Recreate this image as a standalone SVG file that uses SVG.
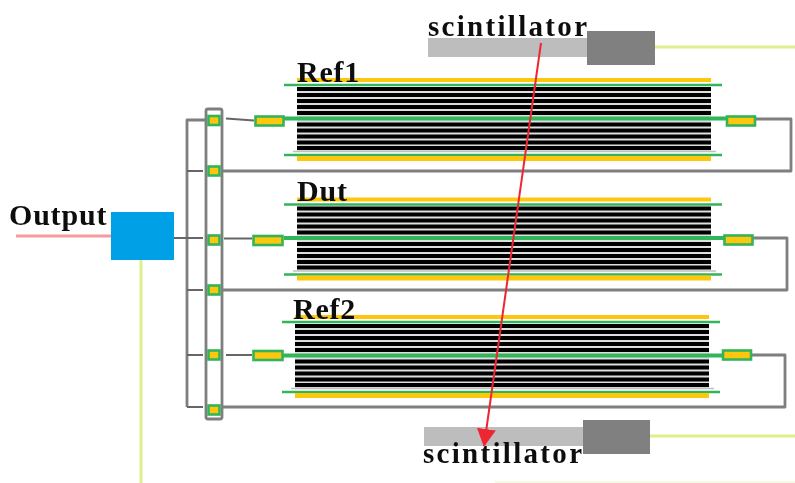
<svg xmlns="http://www.w3.org/2000/svg" xmlns:xlink="http://www.w3.org/1999/xlink" width="795" height="483" viewBox="0 0 795 483">
<style>
.w{fill:none;stroke:#7f7f7f;stroke-width:2.8;stroke-linejoin:round}
.k{fill:none;stroke:#666;stroke-width:2}
.lg{fill:none;stroke:#dcf08c;stroke-width:3}
.gr{stroke:#33b45a;stroke-width:2.5;fill:none}
.y{fill:#fdc70f}
.box{fill:#fdc70f;stroke:#33b45a;stroke-width:2.6}
.t{font-family:"Liberation Serif","Times New Roman",serif;font-weight:700;fill:#111;font-size:30px;letter-spacing:.8px}
.sc{font-size:29px;letter-spacing:2.3px}
.hb{fill:#bdbdbd}
.db{fill:#808080}
</style>
<defs>
<filter id="soft" x="0" y="0" width="795" height="483" filterUnits="userSpaceOnUse"><feGaussianBlur stdDeviation="0.5"/></filter>
<g id="stack">
<rect class="y" x="297" y="78" width="414" height="4"/>
<rect x="297" y="87" width="414" height="64" fill="#dedede"/>
<path stroke="#000" stroke-width="4.2" fill="none" d="M297 89H711M297 95H711M297 101H711M297 107H711M297 113H711M297 124.5H711M297 130.5H711M297 136.5H711M297 142.5H711M297 148H711"/>
<path stroke="#c0c0c0" stroke-width="1.5" fill="none" d="M293 151.5H716"/>
<path class="gr" d="M284 85H722M284 155H722"/>
<path class="gr" style="stroke-width:4" d="M284 118.5H726"/>
<rect class="y" x="297" y="156" width="414" height="5"/>
</g>
<marker id="ah" markerUnits="userSpaceOnUse" markerWidth="20" markerHeight="20" refX="17" refY="9.5" orient="auto"><path d="M0 0L18 9.5L0 19Z" fill="#ed2833"/></marker>
</defs>
<g filter="url(#soft)">
<g id="connectors">
<path class="lg" d="M655 47H795M650 436H795M141 260V483"/>
<path fill="none" stroke="#f3f8d8" stroke-width="1.5" d="M495 482H795"/>
<path d="M16 236H111" fill="none" stroke="#f79a9e" stroke-width="3"/>
<path class="w" d="M187 407V120H206"/>
<path class="k" d="M174 238H203M187 171H203M187 290H203M187 355H203M187 407H203"/>
<path class="w" d="M222 171H791V119H756"/>
<path class="w" d="M222 290H787V238H753"/>
<path class="w" d="M222 407H785V355H752"/>
<path class="k" d="M226 118.5L254 120.5M224 238.5H252M226 355H252"/>
</g>
<g id="rail"><rect class="w" x="206" y="109" width="16" height="310" rx="2"/></g>
<g id="ports">
<rect class="box" x="208.5" y="116" width="11" height="9"/>
<rect class="box" x="208.5" y="166.5" width="11" height="9"/>
<rect class="box" x="208.5" y="235.5" width="11" height="9"/>
<rect class="box" x="208.5" y="285.5" width="11" height="9"/>
<rect class="box" x="208.5" y="350.5" width="11" height="9"/>
<rect class="box" x="208.5" y="405.5" width="11" height="9"/>
</g>
<g id="ref1"><use xlink:href="#stack" href="#stack"/><rect class="box" x="255.5" y="116.5" width="28" height="9"/><rect class="box" x="727" y="116.5" width="28" height="9"/><text class="t" x="297" y="82">Ref1</text></g>
<g id="dut"><use href="#stack" xlink:href="#stack" transform="translate(0 119.5)"/><rect class="box" x="253.5" y="236" width="29" height="9"/><rect class="box" x="724.5" y="235.5" width="28" height="9"/><text class="t" x="297" y="201">Dut</text></g>
<g id="ref2"><use href="#stack" xlink:href="#stack" transform="translate(-2 237)"/><rect class="box" x="253.5" y="351" width="29" height="9"/><rect class="box" x="723" y="350.5" width="28" height="9"/><text class="t" x="293" y="319">Ref2</text></g>
<g id="output"><rect x="111" y="212" width="63" height="48" fill="#00a0e6"/><text class="t" x="9" y="225">Output</text></g>
<g id="scint-top"><rect class="hb" x="428" y="38" width="160" height="19"/><rect class="db" x="587" y="31" width="68" height="34"/><text class="t sc" x="428" y="36">scintillator</text></g>
<g id="scint-bottom"><rect class="hb" x="424" y="427" width="160" height="19"/><rect class="db" x="583" y="420" width="67" height="34"/><text class="t sc" x="423" y="463">scintillator</text></g>
<g id="arrow"><path d="M541 43L484 446" fill="none" stroke="#ed2833" stroke-width="2" marker-end="url(#ah)"/></g>
</g>
</svg>
